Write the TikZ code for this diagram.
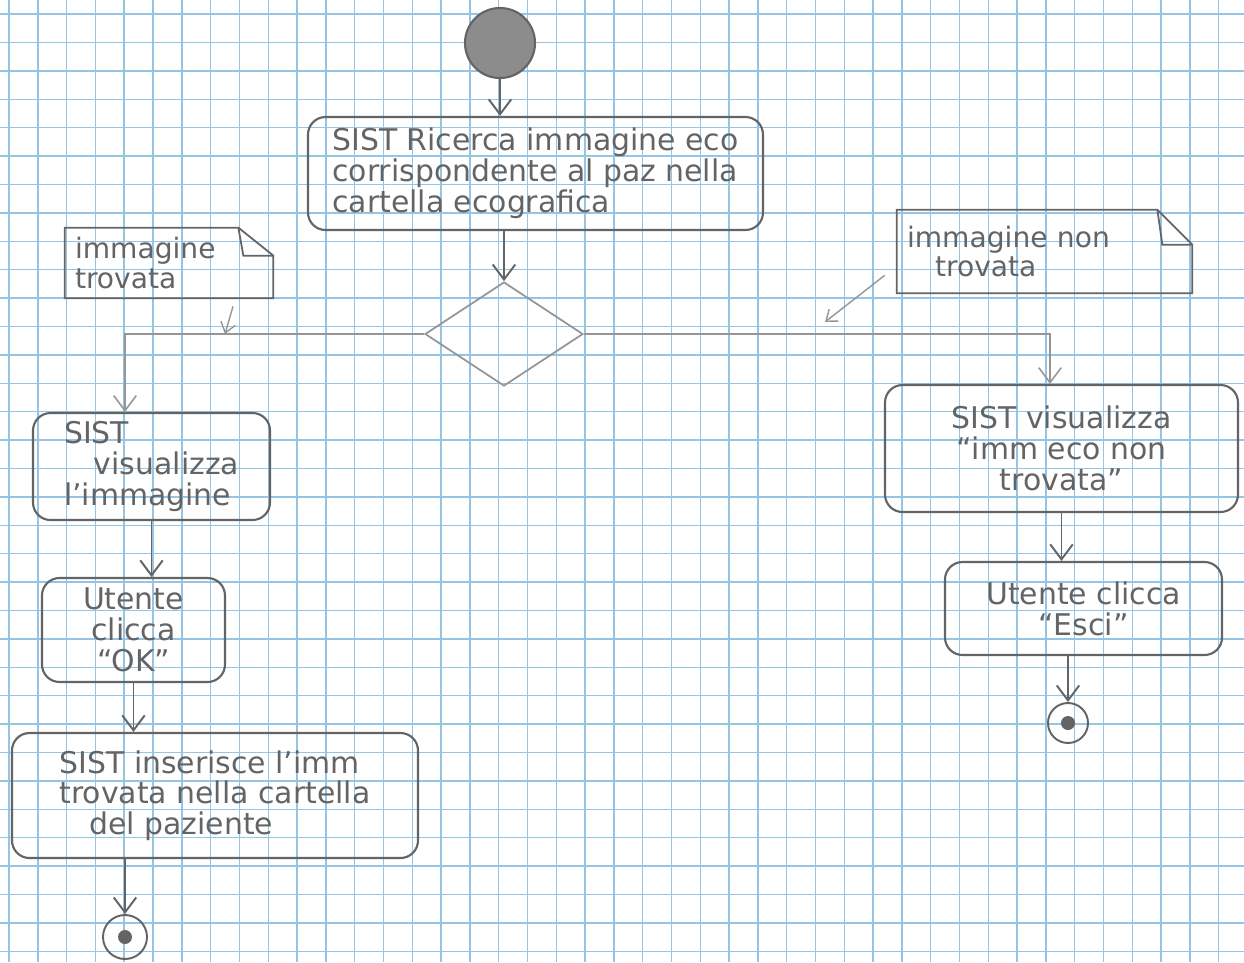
\documentclass[tikz,border=0pt]{standalone}
\usepackage{fontspec}
\setmainfont{DejaVu Sans}
\usetikzlibrary{arrows.meta,shapes.geometric}

\definecolor{gridblue}{RGB}{150,196,228}
\definecolor{pencil}{RGB}{100,100,100}
\definecolor{pencillight}{RGB}{150,150,150}

\tikzset{
  gridline/.style={draw=gridblue, line width=0.8pt},
  action/.style={draw=pencil, line width=1.2pt, rounded corners=0.35cm, text=pencil,
    align=center, font=\fontsize{17}{17.5}\selectfont, inner sep=0pt},
  notetext/.style={text=pencil, align=left, font=\fontsize{16}{17}\selectfont, inner ysep=0pt, inner xsep=0.2cm},
  notebox/.style={draw=pencil, line width=1pt},
  flow/.style={draw=pencil, line width=1.1pt, -{Straight Barb[length=3mm,width=4.5mm]}},
  branch/.style={flow, draw=pencillight, line width=0.9pt},
  notelink/.style={draw=pencillight, line width=0.8pt, -{Straight Barb[length=2mm,width=3mm]}},
  startdot/.style={circle, draw=pencil, fill=black!45, line width=1.2pt, minimum size=1.4cm},
  enddot/.style={circle, draw=pencil, line width=1.1pt, minimum size=#1, inner sep=0pt},
  enddisc/.style={circle, fill=pencil, minimum size=0.28cm, inner sep=0pt},
}

\begin{document}
\begin{tikzpicture}
  %%%%% paper %%%%%
  \useasboundingbox (0,0) rectangle (24.88,-19.24);
  \fill[white] (0,0) rectangle (24.88,-19.24);
  \foreach \i in {0,...,42}
    \draw[gridline] ({0.18+0.576*\i},0) -- ++(0,-19.24);
  \foreach \j in {0,...,33}
    \draw[gridline] (0,{-0.28-0.568*\j}) -- ++(24.88,0);

  %%%%% nodes %%%%%
  \node[startdot] (start) at (10.0,-0.86) {};
  \node[action, align=left, minimum width=9.1cm, minimum height=2.26cm] (search) at (10.71,-3.47)
    {SIST Ricerca immagine eco\\corrispondente al paz nella\\ cartella ecografica};
  \node[diamond, draw=pencillight, line width=1pt, minimum width=3.16cm, minimum height=2.08cm, inner sep=0pt] (dec) at (10.08,-6.68) {};

  \node[notetext, text width=3.76cm, minimum height=1.4cm] (found) at (3.38,-5.26) {immagine\\trovata};
  \node[notetext, text width=5.5cm, minimum height=1.66cm] (nf) at (20.89,-5.03) {immagine non\\\quad trovata};

  \node[action, align=left, minimum width=4.74cm, minimum height=2.14cm] (showimg) at (3.03,-9.33)
    {SIST\\\quad visualizza\\l'immagine};
  \node[action, minimum width=3.66cm, minimum height=2.08cm] (clickok) at (2.67,-12.6)
    {Utente\\clicca\\``OK''};
  \node[action, align=left, minimum width=8.12cm, minimum height=2.5cm] (insert) at (4.3,-15.91)
    {SIST inserisce l'imm\\trovata nella cartella\\\quad del paziente};
  \node[enddot=0.88cm] (end1) at (2.5,-18.74) {};
  \node[enddisc] at (end1) {};

  \node[action, minimum width=7.06cm, minimum height=2.54cm] (notfound) at (21.23,-8.97)
    {SIST visualizza\\``imm eco non\\trovata''};
  \node[action, minimum width=5.54cm, minimum height=1.86cm] (clickesc) at (21.67,-12.17)
    {Utente clicca\\``Esci''};
  \node[enddot=0.8cm] (end2) at (21.36,-14.46) {};
  \node[enddisc] at (end2) {};

  %%%%% note outlines (folded corner) %%%%%
  \draw[notebox] (found.south east) -- (found.south west) -- (found.north west)
    -- ([xshift=-0.7cm]found.north east) -- ([yshift=-0.56cm]found.north east) -- cycle;
  \draw[notebox] ([xshift=-0.7cm]found.north east) -- ([xshift=-0.6cm,yshift=-0.56cm]found.north east)
    -- ([yshift=-0.56cm]found.north east);
  \draw[notebox] (nf.south east) -- (nf.south west) -- (nf.north west)
    -- ([xshift=-0.7cm]nf.north east) -- ([yshift=-0.7cm]nf.north east) -- cycle;
  \draw[notebox] ([xshift=-0.7cm]nf.north east) -- ([xshift=-0.6cm,yshift=-0.7cm]nf.north east)
    -- ([yshift=-0.7cm]nf.north east);

  %%%%% flows %%%%%
  \coordinate (turnL) at (2.5,-6.7);
  \coordinate (turnR) at (21.0,-6.6);
  \coordinate (hitL) at (4.5,-6.68);
  \coordinate (hitR) at (16.5,-6.44);

  \draw[flow] (start) -- (start |- search.north);
  \draw[flow] (search.south -| dec.north) -- (dec.north);
  \draw[branch] (dec.west) -| (turnL |- showimg.north);
  \draw[branch] (dec.east) -| (turnR |- notfound.north);

  \draw[notelink] ([xshift=1.28cm,yshift=-0.16cm]found.south) -- (hitL);
  \draw[notelink] ([xshift=-0.24cm,yshift=0.36cm]nf.south west) -- (hitR);

  \draw[flow] (showimg.south) -- (showimg.south |- clickok.north);
  \draw[flow] (clickok.south) -- (clickok.south |- insert.north);
  \draw[flow] (end1 |- insert.south) -- (end1.north);

  \draw[flow] (notfound.south) -- (notfound.south |- clickesc.north);
  \draw[flow] (end2 |- clickesc.south) -- (end2.north);
\end{tikzpicture}
\end{document}
